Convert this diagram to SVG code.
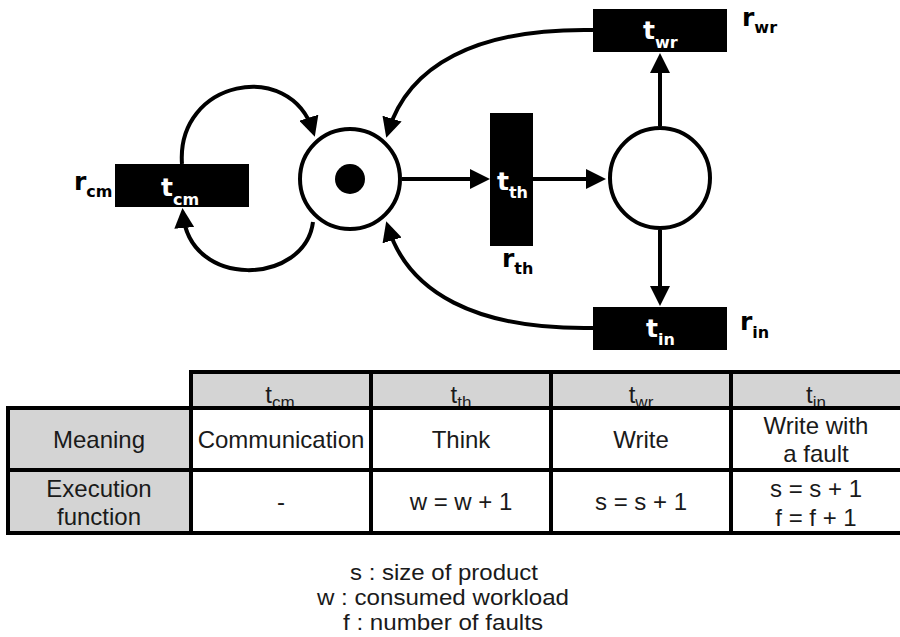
<svg xmlns="http://www.w3.org/2000/svg" width="900" height="637" viewBox="0 0 900 637">
  <style>
    .place { fill: #ffffff; stroke: #000000; stroke-width: 4; }
    .trans { fill: #000000; }
    .arc { fill: none; stroke: #000000; stroke-width: 4; marker-end: url(#head); }
    .tl { font-family: "DejaVu Sans", "Liberation Sans", sans-serif; font-weight: bold; font-size: 25px; fill: #ffffff; }
    .rl { font-family: "DejaVu Sans", "Liberation Sans", sans-serif; font-weight: bold; font-size: 25px; fill: #000000; }
    .sub { font-size: 16px; }
    .cell { font-family: "Liberation Sans", Arial, sans-serif; font-size: 24px; fill: #1a1a1a; text-anchor: middle; }
    .hsub { font-size: 17px; }
    .grid { stroke: #000000; stroke-width: 4; fill: none; }
    .note { font-family: "Liberation Sans", Arial, sans-serif; font-size: 22px; fill: #1a1a1a; text-anchor: middle; }
  </style>
  <defs>
    <marker id="head" markerUnits="userSpaceOnUse" markerWidth="20" markerHeight="20" refX="14" refY="10" orient="auto">
      <path d="M0,0 L20,10 L0,20 z" fill="#000000"/>
    </marker>
  </defs>

  <!-- arcs of the net -->
  <g id="connectors">
    <path class="arc" d="M402,179 H484"/>
    <path class="arc" d="M533,179 H600"/>
    <path class="arc" d="M660,126 V59"/>
    <path class="arc" d="M660,230 V300"/>
    <path class="arc" d="M593,30 C475,28 408,66 388,132"/>
    <path class="arc" d="M593,328 C475,330 408,292 388,227"/>
    <path class="arc" d="M182,164 C176,80 290,58 313,131"/>
    <path class="arc" d="M313,222 C305,285 190,290 183,214"/>
  </g>

  <!-- places -->
  <g id="place-idle">
    <circle class="place" cx="350" cy="179" r="50"/>
    <circle cx="350" cy="179" r="15" fill="#000000"/>
  </g>
  <g id="place-work">
    <circle class="place" cx="660" cy="178" r="50"/>
  </g>

  <!-- transitions -->
  <g id="t-cm">
    <rect class="trans" x="115" y="164" width="134" height="43"/>
    <text class="tl" x="161" y="196">t<tspan class="sub" dy="9">cm</tspan></text>
    <text class="rl" x="74" y="190">r<tspan class="sub" dy="7">cm</tspan></text>
  </g>
  <g id="t-th">
    <rect class="trans" x="490" y="113" width="43" height="133"/>
    <text class="tl" x="497" y="190">t<tspan class="sub" dy="8">th</tspan></text>
    <text class="rl" x="502" y="267">r<tspan class="sub" dy="7">th</tspan></text>
  </g>
  <g id="t-wr">
    <rect class="trans" x="593" y="9" width="134" height="43"/>
    <text class="tl" x="643" y="39">t<tspan class="sub" dy="9">wr</tspan></text>
    <text class="rl" x="742" y="26">r<tspan class="sub" dy="7">wr</tspan></text>
  </g>
  <g id="t-in">
    <rect class="trans" x="593" y="307" width="134" height="43"/>
    <text class="tl" x="646" y="337">t<tspan class="sub" dy="8">in</tspan></text>
    <text class="rl" x="740" y="330">r<tspan class="sub" dy="8">in</tspan></text>
  </g>

  <!-- transition table -->
  <g id="table">
    <rect x="191" y="372" width="709" height="36" fill="#d4d4d4"/>
    <rect x="8" y="408" width="183" height="125" fill="#d4d4d4"/>
    <rect x="191" y="408" width="709" height="125" fill="#ffffff"/>

    <text class="cell" x="280" y="403">t<tspan class="hsub" dy="5">cm</tspan></text>
    <text class="cell" x="461" y="403">t<tspan class="hsub" dy="5">th</tspan></text>
    <text class="cell" x="641" y="403">t<tspan class="hsub" dy="5">wr</tspan></text>
    <text class="cell" x="816" y="403">t<tspan class="hsub" dy="5">in</tspan></text>

    <text class="cell" x="99" y="448">Meaning</text>
    <text class="cell" x="281" y="448">Communication</text>
    <text class="cell" x="461" y="448">Think</text>
    <text class="cell" x="641" y="448">Write</text>
    <text class="cell" x="816" y="434">Write with</text>
    <text class="cell" x="816" y="462">a fault</text>

    <text class="cell" x="99" y="497">Execution</text>
    <text class="cell" x="99" y="525">function</text>
    <text class="cell" x="281" y="510">-</text>
    <text class="cell" x="461" y="510">w = w + 1</text>
    <text class="cell" x="641" y="510">s = s + 1</text>
    <text class="cell" x="816" y="497">s = s + 1</text>
    <text class="cell" x="816" y="526">f = f + 1</text>

    <path class="grid" d="M189,372 H900 M6,408 H900 M6,470 H900 M6,533 H900"/>
    <path class="grid" d="M8,406 V535 M191,370 V535 M371,370 V535 M551,370 V535 M731,370 V535"/>
  </g>

  <!-- legend -->
  <g id="legend">
    <text class="note" x="444" y="580" textLength="188" lengthAdjust="spacingAndGlyphs">s : size of product</text>
    <text class="note" x="443" y="605" textLength="252" lengthAdjust="spacingAndGlyphs">w : consumed workload</text>
    <text class="note" x="443" y="630" textLength="200" lengthAdjust="spacingAndGlyphs">f : number of faults</text>
  </g>
</svg>
